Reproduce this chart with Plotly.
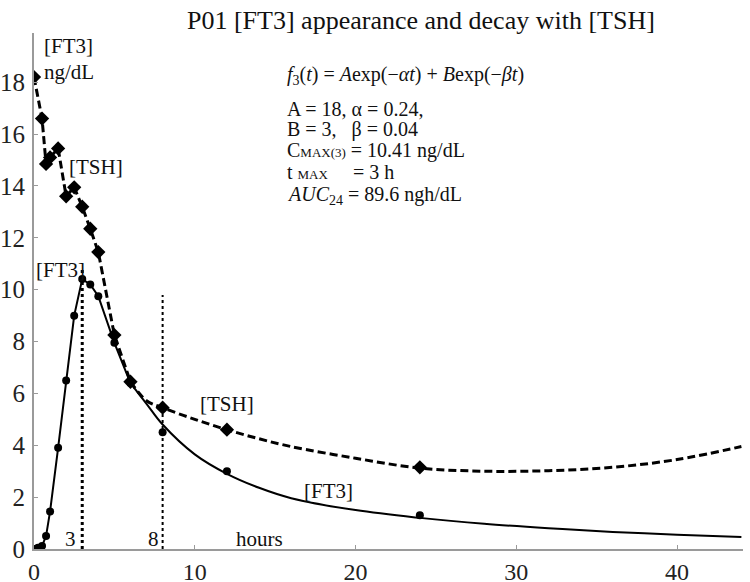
import plotly.graph_objects as go

# ---- data ----
ft3_t = [0, 0.25, 0.5, 0.75, 1, 1.5, 2, 2.5, 3, 3.5, 4, 5, 6, 8, 12, 24]
ft3_v = [0, 0.05, 0.12, 0.5, 1.45, 3.9, 6.5, 9.0, 10.41, 10.2, 9.75, 7.95, 6.4, 4.5, 3.0, 1.3]

tsh_t = [0, 0.5, 0.75, 1, 1.5, 2, 2.5, 3, 3.5, 4, 5, 6, 8, 12, 24]
tsh_v = [18.2, 16.6, 14.85, 15.1, 15.45, 13.6, 13.95, 13.2, 12.35, 11.45, 8.25, 6.45, 5.45, 4.6, 3.15]

fit_t = [6, 7, 8, 10, 12, 14, 16, 20, 24, 28, 32, 36, 40, 44]
ft3_fit = [6.4, 5.6, 4.8, 3.65, 2.9, 2.36, 1.96, 1.5, 1.2, 0.97, 0.8, 0.66, 0.55, 0.46]
tsh_fit = [6.45, 5.72, 5.45, 5.0, 4.6, 4.25, 3.95, 3.5, 3.12, 3.0, 3.02, 3.15, 3.45, 3.95]

tmax_x = [3, 3]
tmax_y = [0, 10.85]
t8_x = [8, 8]
t8_y = [0, 9.8]

x_ticks = [0, 10, 20, 30, 40]
y_ticks = [0, 2, 4, 6, 8, 10, 12, 14, 16, 18]

title_text = "P01 [FT3] appearance and decay with [TSH]"

FONT = "Liberation Serif"
BLACK = "#000000"

n_ft3_obs = 13  # FT3 points 0..6 h joined by straight segments
n_tsh_obs = 12  # TSH points 0..6 h joined by straight segments

fig = go.Figure()

# vertical dotted reference lines
fig.add_trace(go.Scatter(x=tmax_x, y=tmax_y, mode="lines",
                         line=dict(color=BLACK, width=3, dash="dot"),
                         hoverinfo="skip", showlegend=False))
fig.add_trace(go.Scatter(x=t8_x, y=t8_y, mode="lines",
                         line=dict(color=BLACK, width=2, dash="dot"),
                         hoverinfo="skip", showlegend=False))

# fitted curves
fig.add_trace(go.Scatter(x=fit_t, y=ft3_fit, mode="lines",
                         line=dict(color=BLACK, width=2, shape="spline", smoothing=1.0),
                         showlegend=False))
fig.add_trace(go.Scatter(x=fit_t, y=tsh_fit, mode="lines",
                         line=dict(color=BLACK, width=3, dash="8px,4px", shape="spline", smoothing=1.0),
                         showlegend=False))

# observed segments 0..6 h
fig.add_trace(go.Scatter(x=ft3_t[:n_ft3_obs], y=ft3_v[:n_ft3_obs], mode="lines",
                         line=dict(color=BLACK, width=2), showlegend=False))
fig.add_trace(go.Scatter(x=tsh_t[:n_tsh_obs], y=tsh_v[:n_tsh_obs], mode="lines",
                         line=dict(color=BLACK, width=3, dash="8px,4px"), showlegend=False))

# markers
fig.add_trace(go.Scatter(x=ft3_t, y=ft3_v, mode="markers",
                         marker=dict(color=BLACK, size=8, symbol="circle"),
                         name="[FT3]", showlegend=False))
fig.add_trace(go.Scatter(x=tsh_t, y=tsh_v, mode="markers",
                         marker=dict(color=BLACK, size=11, symbol="diamond"),
                         name="[TSH]", showlegend=False))

def lab(x, y, text, size=21, xanchor="left", xref="x", yref="y"):
    fig.add_annotation(x=x, y=y, xref=xref, yref=yref, text=text, showarrow=False,
                       xanchor=xanchor, yanchor="middle",
                       font=dict(family=FONT, size=size, color="#111111"))

lab(0.5, 19.4, "[FT3]")
lab(0.5, 18.4, "ng/dL")
lab(2.05, 14.75, "[TSH]")
lab(0.0, 10.75, "[FT3]")
lab(10.2, 5.6, "[TSH]")
lab(16.65, 2.25, "[FT3]")
lab(2.3, 0.38, "3", xanchor="center")
lab(7.46, 0.38, "8", xanchor="center")
lab(14.0, 0.38, "hours", xanchor="center")

fx = 15.6
fs = 20
small = "<span style='font-size:13px'>"
lab(fx, 18.25, "<i>f</i><sub>3</sub>(<i>t</i>) = <i>A</i>exp(\u2212<i>\u03b1t</i>) + <i>B</i>exp(\u2212<i>\u03b2t</i>)", size=fs)
lab(fx, 16.97, "A = 18, \u03b1 = 0.24,", size=fs)
lab(fx, 16.16, "B = 3,   \u03b2 = 0.04", size=fs)
lab(fx, 15.35, "C" + small + "MAX(3)</span> = 10.41 ng/dL", size=fs)
lab(fx, 14.54, "t " + small + "MAX</span>     = 3 h", size=fs)
lab(fx, 13.65, "<i>AUC</i><sub>24</sub> = 89.6 ngh/dL", size=fs)

# title
fig.add_annotation(x=0.546, y=1.025, xref="paper", yref="paper", text=title_text,
                   showarrow=False, xanchor="center", yanchor="middle",
                   font=dict(family=FONT, size=26, color="#111111"))

fig.update_layout(
    width=750, height=582,
    margin=dict(l=34, r=7, t=33, b=33, autoexpand=False),
    paper_bgcolor="white", plot_bgcolor="white",
    showlegend=False,
    font=dict(family=FONT, color="#111111"),
)
fig.update_xaxes(range=[0, 44.1], tickvals=x_ticks, showgrid=False, zeroline=False,
                 showline=True, linecolor="#9a9a9a", linewidth=2, automargin=False,
                 ticks="inside", ticklen=4, tickcolor="#9a9a9a",
                 tickfont=dict(family=FONT, size=24, color="#222222"))
fig.update_yaxes(range=[0, 19.9], tickvals=y_ticks, showgrid=False, zeroline=False,
                 showline=True, linecolor="#9a9a9a", linewidth=2, automargin=False,
                 ticks="inside", ticklen=4, tickcolor="#9a9a9a",
                 ticklabelstandoff=2,
                 tickfont=dict(family=FONT, size=25, color="#222222"))

# remove the page's default 8px body margin so the figure sits at the window's corner
fig.write_html("out.html", config={"displayModeBar": False},
               post_script="document.body.style.margin='0px';")
